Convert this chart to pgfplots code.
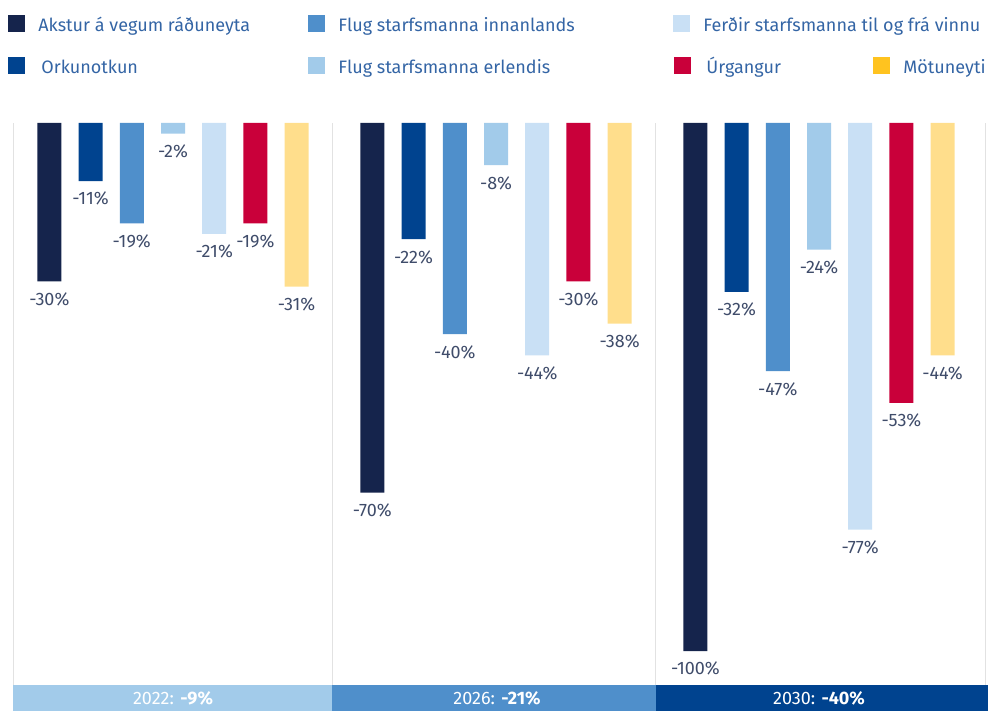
\documentclass[border=0pt]{standalone}
\usepackage{fontspec}
\setmainfont{Fira Sans}
\usepackage{pgfplots}
\pgfplotsset{compat=1.18}
\definecolor{cnavy}{HTML}{15244C}
\definecolor{cdark}{HTML}{00438F}
\definecolor{cmid}{HTML}{4F8FCB}
\definecolor{clight}{HTML}{A2CBEA}
\definecolor{cpale}{HTML}{C9E0F5}
\definecolor{cred}{HTML}{C9003A}
\definecolor{cyel}{HTML}{FFDE8C}
\definecolor{cgold}{HTML}{FFC31F}
\definecolor{labc}{HTML}{3F4C6A}
\definecolor{legc}{HTML}{3465A5}
\definecolor{sepc}{HTML}{E2E2E2}
\begin{document}
\begin{tikzpicture}
\begin{axis}[
  name=ax, scale only axis, width=487.5pt, height=294pt,
  hide axis, clip=false,
  xmin=-0.4954, xmax=2.5232, ymin=-111.36, ymax=0,
  ybar, bar width=0.0743,
  point meta=y,
  nodes near coords={\pgfmathprintnumber[assume math mode=true,fixed,precision=0]{\pgfplotspointmeta}\%},
  every node near coord/.append style={font=\fontsize{9}{10.8}\selectfont, text=labc, yshift=-2pt},
]
% Akstur á vegum ráðuneyta
\addplot[draw=none, fill=cnavy, bar shift=-0.3828] coordinates {(0,-30) (1,-70) (2,-100)};
% Orkunotkun
\addplot[draw=none, fill=cdark, bar shift=-0.2552] coordinates {(0,-11) (1,-22) (2,-32)};
% Flug starfsmanna innanlands
\addplot[draw=none, fill=cmid, bar shift=-0.1276] coordinates {(0,-19) (1,-40) (2,-47)};
% Flug starfsmanna erlendis
\addplot[draw=none, fill=clight, bar shift=0] coordinates {(0,-2) (1,-8) (2,-24)};
% Ferðir starfsmanna til og frá vinnu
\addplot[draw=none, fill=cpale, bar shift=0.1276] coordinates {(0,-21) (1,-44) (2,-77)};
% Úrgangur
\addplot[draw=none, fill=cred, bar shift=0.2552] coordinates {(0,-19) (1,-30) (2,-53)};
% Mötuneyti
\addplot[draw=none, fill=cyel, bar shift=0.3828] coordinates {(0,-31) (1,-38) (2,-44)};
\end{axis}
\begin{scope}[x=0.5pt, y=-0.5pt, shift={(ax.north west)}, shift={(-13,-123)}]
  \path (0,0) rectangle (988,711);
  % group separators
  \foreach \xx in {13.5,332.5,655.5,985.5}
    \draw[sepc, line width=0.75pt] (\xx,123) -- (\xx,685);
  % bottom band with totals
  \fill[clight] (13,685) rectangle (332,711);
  \fill[cmid] (332,685) rectangle (656,711);
  \fill[cdark] (656,685) rectangle (988,711);
  \begin{scope}[every node/.style={text=white, font=\fontsize{9}{10.8}\selectfont, inner sep=0}]
    \node at (173,698) {2022: \textbf{-9\%}};
    \node at (497,698) {2026: \textbf{-21\%}};
    \node at (819,698) {2030: \textbf{-40\%}};
  \end{scope}
  % legend
  \begin{scope}[every node/.style={text=legc, font=\fontsize{9}{10.8}\selectfont, inner sep=0, anchor=base west}]
    \fill[cnavy] (8,15) rectangle (25,32);  \node at (38,32) {Akstur á vegum ráðuneyta};
    \fill[cmid] (308,15) rectangle (325,32); \node at (338,32) {Flug starfsmanna innanlands};
    \fill[cpale] (673,15) rectangle (690,32); \node at (703,32) {Ferðir starfsmanna til og frá vinnu};
    \fill[cdark] (8,57) rectangle (25,74);  \node at (41,74) {Orkunotkun};
    \fill[clight] (308,57) rectangle (325,74); \node at (338,74) {Flug starfsmanna erlendis};
    \fill[cred] (674,57) rectangle (691,74); \node at (706,74) {Úrgangur};
    \fill[cgold] (873,57) rectangle (890,74); \node at (903,74) {Mötuneyti};
  \end{scope}
\end{scope}
\end{tikzpicture}
\end{document}
